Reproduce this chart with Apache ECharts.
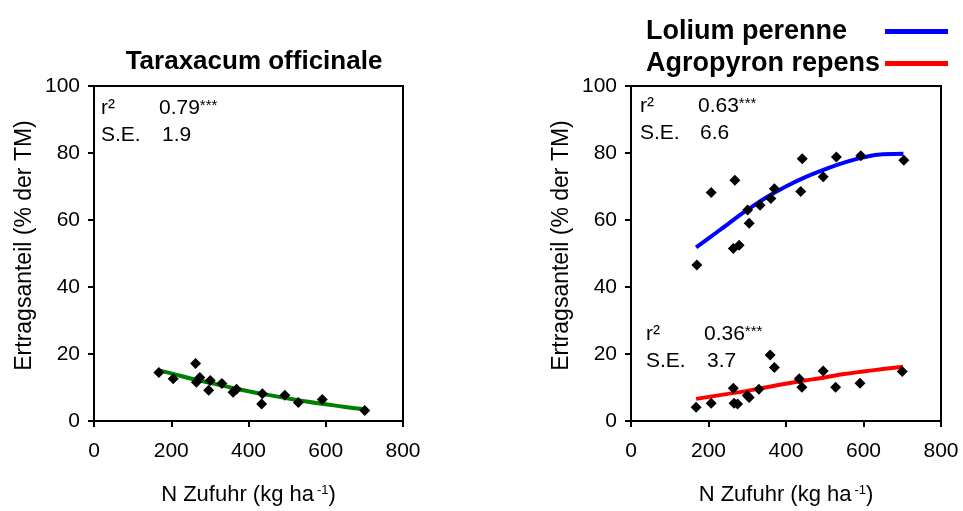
<!DOCTYPE html>
<html>
<head>
<meta charset="utf-8">
<script src="https://cdn.jsdelivr.net/npm/echarts@6/dist/echarts.min.js"></script>
<style>html,body{margin:0;padding:0;background:#fff;}#c{width:963px;height:511px;}</style>
</head>
<body>
<div id="c"></div>
<script>
// Tick values
const xTicks = [0, 200, 400, 600, 800];
const yTicks = [0, 20, 40, 60, 80, 100];

// Taraxacum officinale (left panel)
const tarN = [168, 205, 263, 274, 265, 301, 297, 331, 360, 369, 436, 434, 494, 529, 591, 701];
const tarY = [14.5, 12.6, 17.2, 13.0, 11.6, 12.1, 9.2, 11.2, 8.6, 9.5, 8.1, 5.1, 7.7, 5.5, 6.4, 3.1];
const tarFitN = [168, 200, 250, 300, 350, 400, 450, 500, 550, 600, 650, 701];
const tarFitY = [15.1, 14.2, 12.7, 11.4, 10.1, 8.9, 7.8, 6.8, 5.8, 5.0, 4.2, 3.5];

// Lolium perenne (right panel, upper)
const lolN = [170, 207, 268, 264, 279, 301, 305, 333, 361, 370, 442, 438, 496, 530, 593, 704];
const lolY = [46.6, 68.2, 71.9, 51.5, 52.5, 63.0, 59.0, 64.4, 66.4, 69.3, 78.3, 68.5, 72.9, 78.8, 79.2, 77.8];
const lolFitN = [168, 200, 250, 300, 350, 400, 450, 500, 550, 600, 650, 703];
const lolFitY = [51.8, 54.5, 58.8, 63.0, 66.8, 70.0, 72.8, 75.1, 77.1, 78.7, 79.6, 79.8];

// Agropyron repens (right panel, lower)
const agrN = [168, 207, 264, 266, 275, 300, 305, 330, 359, 370, 434, 441, 496, 528, 591, 700];
const agrY = [4.1, 5.3, 9.8, 5.3, 5.1, 7.6, 7.0, 9.5, 19.7, 16.0, 12.6, 10.1, 14.9, 10.1, 11.3, 14.8];
const agrFitN = [168, 250, 300, 350, 433, 500, 550, 600, 650, 702];
const agrFitY = [6.6, 8.1, 9.0, 10.1, 11.8, 13.0, 14.0, 14.8, 15.5, 16.2];

// Statistics text
const statsTar = {r2: '0.79', sig: '***', se: '1.9'};
const statsLol = {r2: '0.63', sig: '***', se: '6.6'};
const statsAgr = {r2: '0.36', sig: '***', se: '3.7'};

const FONT = 'Liberation Sans, Arial, sans-serif';
const pairs = (xs, ys) => xs.map((x, i) => [x, ys[i]]);

function xAxisCfg(gi) {
  return {
    type: 'value', gridIndex: gi, min: xTicks[0], max: xTicks[xTicks.length - 1], interval: 200,
    name: 'N Zufuhr (kg ha{s|-1})', nameLocation: 'middle', nameGap: 63,
    nameTextStyle: {fontFamily: FONT, fontSize: 22, color: '#000',
      rich: {s: {fontFamily: FONT, fontSize: 13, color: '#000', verticalAlign: 'top', padding: [0, 0, 8, 3]}}},
    axisLine: {show: true, onZero: false, lineStyle: {color: '#000', width: 2}},
    axisTick: {show: true, inside: false, length: 6, lineStyle: {color: '#000', width: 2}},
    axisLabel: {fontFamily: FONT, fontSize: 21, color: '#000', margin: 20},
    splitLine: {show: false}
  };
}
function yAxisCfg(gi) {
  return {
    type: 'value', gridIndex: gi, min: yTicks[0], max: yTicks[yTicks.length - 1], interval: 20,
    name: 'Ertragsanteil (% der TM)', nameLocation: 'middle', nameGap: 58, nameRotate: 90,
    nameTextStyle: {fontFamily: FONT, fontSize: 23, color: '#000', padding: [0, 0, 0, 16]},
    axisLine: {show: true, onZero: false, lineStyle: {color: '#000', width: 2}},
    axisTick: {show: true, inside: false, length: 6, lineStyle: {color: '#000', width: 2}},
    axisLabel: {fontFamily: FONT, fontSize: 21, color: '#000', margin: 14},
    splitLine: {show: false}
  };
}
function legendCfg(name, top, padRight) {
  return {
    data: [name], orient: 'vertical', left: 641, top: top, align: 'right',
    icon: 'rect', itemWidth: 63, itemHeight: 5,
    textStyle: {fontFamily: FONT, fontSize: 27, fontWeight: 'bold', color: '#000', padding: [0, padRight, 0, 0]}
  };
}
function statText(x, y, text) {
  return {type: 'text', left: x, top: y, style: {text: text, fontFamily: FONT, fontSize: 21, fill: '#000'}};
}
function statValue(x, y, val, sig) {
  return {type: 'text', left: x, top: y, style: {
    text: val + '{s|' + sig + '}', fontFamily: FONT, fontSize: 21, fill: '#000',
    rich: {s: {fontFamily: FONT, fontSize: 15, fill: '#000', verticalAlign: 'top', padding: [0, 0, 6, 0]}}
  }};
}

const chart = echarts.init(document.getElementById('c'), null, {renderer: 'canvas'});
chart.setOption({
  backgroundColor: '#fff',
  animation: false,
  title: {
    text: 'Taraxacum officinale', left: 249, top: 44, textAlign: 'center',
    textStyle: {fontFamily: FONT, fontSize: 26, fontWeight: 'bold', color: '#000'}
  },
  legend: [
    legendCfg('Lolium perenne', 13, 33),
    legendCfg('Agropyron repens', 45, 0)
  ],
  grid: [
    {left: 94, top: 86, width: 309, height: 337, show: true, borderColor: '#000', borderWidth: 2, backgroundColor: 'transparent'},
    {left: 631, top: 86, width: 310, height: 337, show: true, borderColor: '#000', borderWidth: 2, backgroundColor: 'transparent'}
  ],
  xAxis: [xAxisCfg(0), xAxisCfg(1)],
  yAxis: [yAxisCfg(0), yAxisCfg(1)],
  series: [
    {name: 'Taraxacum officinale', type: 'line', xAxisIndex: 0, yAxisIndex: 0, data: pairs(tarFitN, tarFitY),
     smooth: true, showSymbol: false, lineStyle: {color: '#008000', width: 4}, itemStyle: {color: '#008000'}, z: 2},
    {name: 'Taraxacum Daten', type: 'scatter', xAxisIndex: 0, yAxisIndex: 0, data: pairs(tarN, tarY),
     symbol: 'diamond', symbolSize: 11, itemStyle: {color: '#000', opacity: 1}, z: 3},
    {name: 'Lolium perenne', type: 'line', xAxisIndex: 1, yAxisIndex: 1, data: pairs(lolFitN, lolFitY),
     smooth: true, showSymbol: false, lineStyle: {color: '#0000ff', width: 4}, itemStyle: {color: '#0000ff'}, z: 2},
    {name: 'Lolium Daten', type: 'scatter', xAxisIndex: 1, yAxisIndex: 1, data: pairs(lolN, lolY),
     symbol: 'diamond', symbolSize: 11, itemStyle: {color: '#000', opacity: 1}, z: 3},
    {name: 'Agropyron repens', type: 'line', xAxisIndex: 1, yAxisIndex: 1, data: pairs(agrFitN, agrFitY),
     smooth: true, showSymbol: false, lineStyle: {color: '#ff0000', width: 4}, itemStyle: {color: '#ff0000'}, z: 2},
    {name: 'Agropyron Daten', type: 'scatter', xAxisIndex: 1, yAxisIndex: 1, data: pairs(agrN, agrY),
     symbol: 'diamond', symbolSize: 11, itemStyle: {color: '#000', opacity: 1}, z: 3}
  ],
  graphic: [
    statText(101, 98, 'r²'), statValue(159, 98, statsTar.r2, statsTar.sig),
    statText(101, 125, 'S.E.'), statText(162, 125, statsTar.se),
    statText(640, 96, 'r²'), statValue(698, 96, statsLol.r2, statsLol.sig),
    statText(640, 123, 'S.E.'), statText(700, 123, statsLol.se),
    statText(646, 324, 'r²'), statValue(704, 324, statsAgr.r2, statsAgr.sig),
    statText(646, 351, 'S.E.'), statText(707, 351, statsAgr.se)
  ]
});
</script>
</body>
</html>
